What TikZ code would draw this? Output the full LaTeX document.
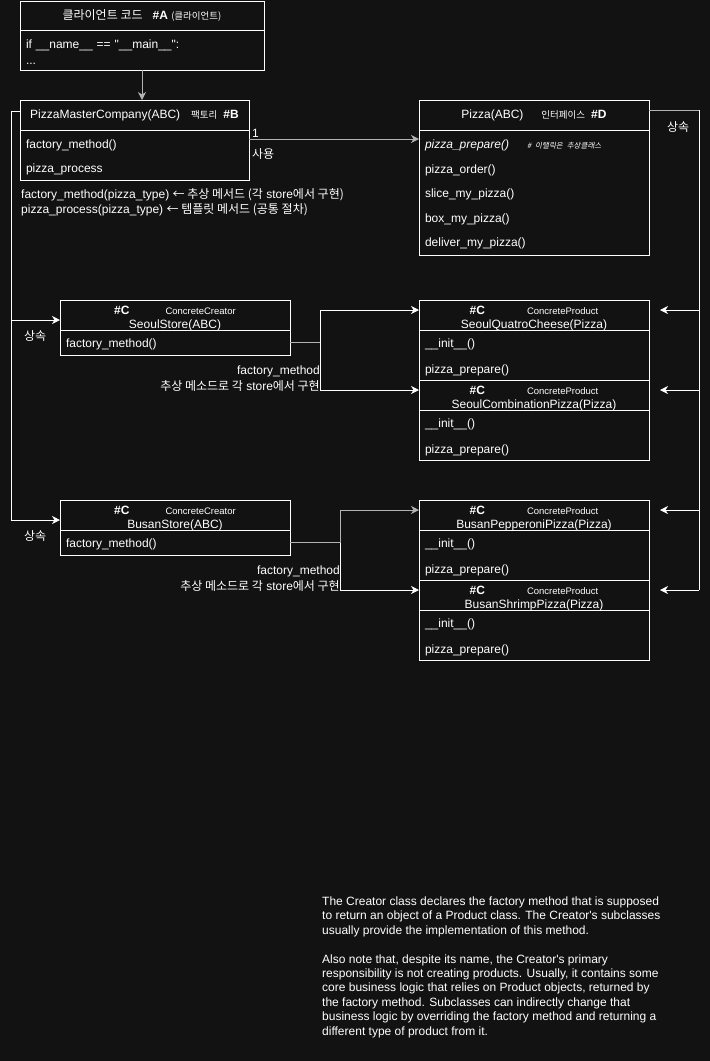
\documentclass[tikz,border=0pt]{standalone}
\usepackage{fontspec}
\setmainfont{Liberation Sans}[Ligatures=TeXOff]
\newfontfamily\krfont[Scale=1.0]{Noto Sans CJK KR}
\newfontfamily\kritfont[Scale=1.0,FakeSlant=0.2]{Noto Sans CJK KR}
\newcommand{\kr}[1]{{\krfont #1}}
\newcommand{\topgap}{\rule{0pt}{13pt}}
\usetikzlibrary{positioning,arrows.meta}
\definecolor{bgc}{HTML}{121212}
\definecolor{edgegray}{HTML}{B3B3B3}
\tikzset{
  hdr/.style={draw=white, line width=1pt, outer sep=0pt, inner sep=0pt, minimum width=#1, minimum height=30pt, align=center, text=white, font=\fontsize{12}{14}\selectfont},
  hdrtwo/.style={hdr=#1, text depth=0pt},
  bodybox/.style={draw=white, line width=1pt, outer sep=0pt, inner xsep=6pt, inner ysep=0pt, text width=#1, align=left, text=white},
  lbl/.style={text=white, inner sep=0pt, font=\fontsize{12}{16}\selectfont},
  wline/.style={draw=white, line width=1pt},
  gline/.style={draw=edgegray, line width=1pt},
  arr/.style={-{Stealth[length=8pt,width=8pt,inset=2.5pt]}},
}
\begin{document}
\begin{tikzpicture}[x=1pt, y=-1pt]
  \fill[bgc] (0,0) rectangle (710,1061);
  \useasboundingbox (0,0) rectangle (710,1061);

  % client code
  \node[hdr=244pt, minimum height=29pt, anchor=north west] (ah) at (20,1) {\kr{클라이언트 코드}\hspace{10pt}\textbf{\#A} {\fontsize{9.5}{10}\selectfont\kr{(클라이언트)}}};
  \node[bodybox=232pt, minimum height=40pt, font=\fontsize{12}{16}\selectfont, below=0pt of ah] (ab) {\topgap if \_\_name\_\_ == "\_\_main\_\_":\\...};

  % creator
  \node[hdr=229pt, anchor=north west] (bh) at (20,100) {PizzaMasterCompany(ABC)\hspace{11pt}{\fontsize{9.5}{10}\selectfont\kr{팩토리}}\hspace{6pt}\textbf{\#B}};
  \node[bodybox=217pt, minimum height=50pt, font=\fontsize{12}{24}\selectfont, below=0pt of bh] (bb) {\topgap factory\_method()\\pizza\_process};
  \node[lbl, anchor=north west, align=left, font=\fontsize{12}{15.7}\selectfont] (bnote) at (21,188) {factory\_method(pizza\_type) \kr{← 추상 메서드 (각} store\kr{에서 구현)}\\pizza\_process(pizza\_type) \kr{← 템플릿 메서드 (공통 절차)}};

  % product interface
  \node[hdr=230pt, anchor=north west] (dh) at (419,100) {Pizza(ABC)\hspace{18pt}{\fontsize{9.5}{10}\selectfont\kr{인터페이스}}\hspace{6pt}\textbf{\#D}};
  \node[bodybox=218pt, minimum height=125pt, font=\fontsize{12}{24.5}\selectfont, below=0pt of dh] (db) {\topgap\textit{pizza\_prepare()}\hspace{18pt}{\fontsize{7.5}{8}\selectfont\kritfont \# 이탤릭은 추상클래스}\\pizza\_order()\\slice\_my\_pizza()\\box\_my\_pizza()\\deliver\_my\_pizza()};

  % seoul
  \node[hdrtwo=230pt, anchor=north west] (sh) at (60,300) {\rule{0pt}{13pt}\textbf{\#C}\hspace{36pt}{\fontsize{9.5}{10}\selectfont ConcreteCreator}\\SeoulStore(ABC)};
  \node[bodybox=218pt, minimum height=25pt, font=\fontsize{12}{24}\selectfont, below=0pt of sh] (sb) {\topgap factory\_method()};
  \node[hdrtwo=230pt, anchor=north west] (qh) at (419,300) {\rule{0pt}{13pt}\textbf{\#C}\hspace{42pt}{\fontsize{9.5}{10}\selectfont ConcreteProduct}\\SeoulQuatroCheese(Pizza)};
  \node[bodybox=218pt, minimum height=50pt, font=\fontsize{12}{26}\selectfont, below=0pt of qh] (qb) {\topgap\_\_init\_\_()\\pizza\_prepare()};
  \node[hdrtwo=230pt, below=0pt of qb] (ch) {\rule{0pt}{13pt}\textbf{\#C}\hspace{42pt}{\fontsize{9.5}{10}\selectfont ConcreteProduct}\\SeoulCombinationPizza(Pizza)};
  \node[bodybox=218pt, minimum height=50pt, font=\fontsize{12}{26}\selectfont, below=0pt of ch] (cb) {\topgap\_\_init\_\_()\\pizza\_prepare()};

  % busan
  \node[hdrtwo=230pt, anchor=north west] (bsh) at (60,500) {\rule{0pt}{13pt}\textbf{\#C}\hspace{36pt}{\fontsize{9.5}{10}\selectfont ConcreteCreator}\\BusanStore(ABC)};
  \node[bodybox=218pt, minimum height=25pt, font=\fontsize{12}{24}\selectfont, below=0pt of bsh] (bsb) {\topgap factory\_method()};
  \node[hdrtwo=230pt, anchor=north west] (ph) at (419,500) {\rule{0pt}{13pt}\textbf{\#C}\hspace{42pt}{\fontsize{9.5}{10}\selectfont ConcreteProduct}\\BusanPepperoniPizza(Pizza)};
  \node[bodybox=218pt, minimum height=50pt, font=\fontsize{12}{26}\selectfont, below=0pt of ph] (pb) {\topgap\_\_init\_\_()\\pizza\_prepare()};
  \node[hdrtwo=230pt, below=0pt of pb] (srh) {\rule{0pt}{13pt}\textbf{\#C}\hspace{42pt}{\fontsize{9.5}{10}\selectfont ConcreteProduct}\\BusanShrimpPizza(Pizza)};
  \node[bodybox=218pt, minimum height=50pt, font=\fontsize{12}{26}\selectfont, below=0pt of srh] (srb) {\topgap\_\_init\_\_()\\pizza\_prepare()};

  % client uses creator, creator uses product
  \draw[gline, arr] (ab.south) -- (ab.south |- bh.north);
  \draw[gline, arr] ([yshift=-9pt]bb.north east) -- ([yshift=-9pt]db.north west);
  \node[lbl, anchor=base west] (one) at (252,137) {1};
  \node[lbl, anchor=base west] (use) at (252,158.5) {\kr{사용}};

  % inheritance from creator
  \coordinate (lt) at (11,111);
  \coordinate (sw) at ([yshift=-5pt]sh.west);
  \coordinate (bw) at ([yshift=-5pt]bsh.west);
  \draw[wline] ([yshift=4pt]bh.west) -- (lt) -- (lt |- bw);
  \draw[wline, arr] (lt |- sw) -- (sw);
  \draw[wline, arr] (lt |- bw) -- (bw);
  \node[lbl, anchor=base west] (inhs) at (24,340) {\kr{상속}};
  \node[lbl, anchor=base west] (inhb) at (24,540) {\kr{상속}};

  % inheritance from product
  \coordinate (rt) at (699,110);
  \coordinate (qe) at ([yshift=5pt]qh.east);
  \coordinate (ce) at ([yshift=5pt]ch.east);
  \coordinate (pe) at ([yshift=5pt]ph.east);
  \coordinate (sre) at ([yshift=5pt]srh.east);
  \draw[gline] ([yshift=5pt]dh.east) -- (rt);
  \draw[wline] (rt) -- (rt |- sre);
  \foreach \n in {qe,ce,pe,sre}
    \draw[wline, arr, shorten >=11pt] (rt |- \n) -- (\n);
  \node[lbl, anchor=base west] (inhp) at (667,131) {\kr{상속}};

  % factory method, seoul
  \coordinate (sj) at ([xshift=30pt]sb.east);
  \coordinate (qw) at ([yshift=5pt]qh.west);
  \coordinate (cw) at ([yshift=5pt]ch.west);
  \draw[gline] (sb.east) -- (sj);
  \draw[wline, arr] (sj) |- (qw);
  \draw[wline, arr] (sj) |- (cw);
  \node[lbl, anchor=north east, align=right] (sjl) at ([yshift=-23.5pt]sj) {factory\_method\\\kr{추상 메소드로 각} store\kr{에서 구현}};

  % factory method, busan
  \coordinate (bj) at ([xshift=50pt]bsb.east);
  \coordinate (pw) at ([yshift=5pt]ph.west);
  \coordinate (srw) at ([yshift=5pt]srh.west);
  \draw[gline] (bsb.east) -- (bj);
  \draw[gline, arr] (bj) |- (pw);
  \draw[wline, arr] (bj) |- (srw);
  \node[lbl, anchor=north east, align=right] (bjl) at ([yshift=-23.5pt]bj) {factory\_method\\\kr{추상 메소드로 각} store\kr{에서 구현}};

  % note
  \node[lbl, anchor=north west, align=left, font=\fontsize{12}{14.4}\selectfont] (note) at (322,896.5) {The Creator class declares the factory method that is supposed\\to return an object of a Product class. The Creator's subclasses\\usually provide the implementation of this method.\\[14.4pt]Also note that, despite its name, the Creator's primary\\responsibility is not creating products. Usually, it contains some\\core business logic that relies on Product objects, returned by\\the factory method. Subclasses can indirectly change that\\business logic by overriding the factory method and returning a\\different type of product from it.};
\end{tikzpicture}
\end{document}
